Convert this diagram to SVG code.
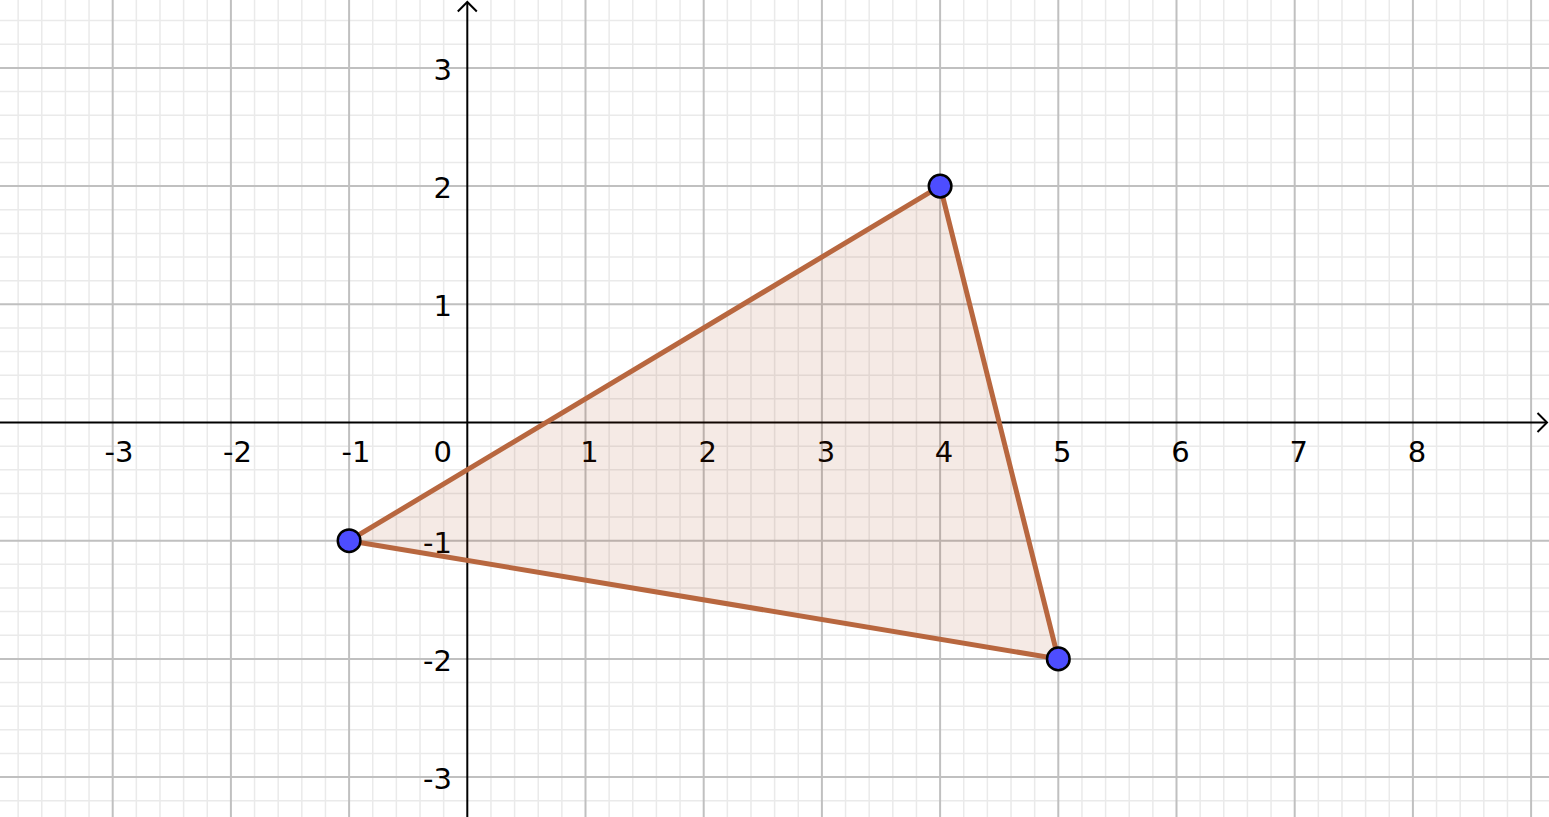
<svg xmlns="http://www.w3.org/2000/svg" width="1549" height="817" viewBox="0 0 1549 817">
<style>
.minor{stroke:#EAEAEA;stroke-width:1.5;fill:none}
.major{stroke:#C0C0C0;stroke-width:2;fill:none}
.axis{stroke:#000;stroke-width:2;fill:none}
.lbl{font-family:"DejaVu Sans",sans-serif;font-size:29px;fill:#000}
.xl{text-anchor:middle}
.yl{text-anchor:end}
.edge{stroke:#B8673F;stroke-width:5;fill:none;stroke-linecap:round}
.pt{fill:#4D4DFF;stroke:#000;stroke-width:2.5}
</style>
<rect width="1549" height="817" fill="#FFFFFF"/>
<g id="grid-minor" class="minor">
<path d="M18.14 0V817M41.78 0V817M65.42 0V817M89.06 0V817M136.34 0V817M159.98 0V817M183.62 0V817M207.26 0V817M254.54 0V817M278.18 0V817M301.82 0V817M325.46 0V817M372.74 0V817M396.38 0V817M420.02 0V817M443.66 0V817M490.94 0V817M514.58 0V817M538.22 0V817M561.86 0V817M609.14 0V817M632.78 0V817M656.42 0V817M680.06 0V817M727.34 0V817M750.98 0V817M774.62 0V817M798.26 0V817M845.54 0V817M869.18 0V817M892.82 0V817M916.46 0V817M963.74 0V817M987.38 0V817M1011.02 0V817M1034.66 0V817M1081.94 0V817M1105.58 0V817M1129.22 0V817M1152.86 0V817M1200.14 0V817M1223.78 0V817M1247.42 0V817M1271.06 0V817M1318.34 0V817M1341.98 0V817M1365.62 0V817M1389.26 0V817M1436.54 0V817M1460.18 0V817M1483.82 0V817M1507.46 0V817"/>
<path d="M0 20.62H1549M0 44.26H1549M0 91.54H1549M0 115.18H1549M0 138.82H1549M0 162.46H1549M0 209.74H1549M0 233.38H1549M0 257.02H1549M0 280.66H1549M0 327.94H1549M0 351.58H1549M0 375.22H1549M0 398.86H1549M0 446.14H1549M0 469.78H1549M0 493.42H1549M0 517.06H1549M0 564.34H1549M0 587.98H1549M0 611.62H1549M0 635.26H1549M0 682.54H1549M0 706.18H1549M0 729.82H1549M0 753.46H1549M0 800.74H1549"/>
</g>
<g id="grid-major" class="major">
<path d="M112.7 0V817M230.9 0V817M349.1 0V817M585.5 0V817M703.7 0V817M821.9 0V817M940.1 0V817M1058.3 0V817M1176.5 0V817M1294.7 0V817M1412.9 0V817M1531.1 0V817"/>
<path d="M0 67.9H1549M0 186.1H1549M0 304.3H1549M0 540.7H1549M0 658.9H1549M0 777.1H1549"/>
</g>
<g id="axes" class="axis">
<path d="M0 422.5H1547"/>
<path d="M1537.5 413L1547 422.5L1537.5 432"/>
<path d="M467.3 817V2"/>
<path d="M457.8 11.5L467.3 2L476.8 11.5"/>
</g>
<g id="x-labels" class="lbl xl">
<text x="119" y="461.5">-3</text>
<text x="237.5" y="461.5">-2</text>
<text x="356" y="461.5">-1</text>
<text x="589.5" y="461.5">1</text>
<text x="707.7" y="461.5">2</text>
<text x="825.9" y="461.5">3</text>
<text x="944.1" y="461.5">4</text>
<text x="1062.3" y="461.5">5</text>
<text x="1180.5" y="461.5">6</text>
<text x="1298.7" y="461.5">7</text>
<text x="1416.9" y="461.5">8</text>
</g>
<g id="y-labels" class="lbl yl">
<text x="452" y="461.5">0</text>
<text x="452" y="79.8">3</text>
<text x="452" y="198">2</text>
<text x="452" y="316.2">1</text>
<text x="452" y="552.6">-1</text>
<text x="452" y="670.8">-2</text>
<text x="452" y="789">-3</text>
</g>
<g id="triangle">
<polygon points="349.1,540.7 940.1,186.1 1058.3,658.9" fill="#993300" fill-opacity="0.1" stroke="none"/>
</g>
<g id="connectors">
<path class="edge" d="M349.1 540.7L940.1 186.1"/>
<path class="edge" d="M940.1 186.1L1058.3 658.9"/>
<path class="edge" d="M1058.3 658.9L349.1 540.7"/>
</g>
<g id="point-A"><circle class="pt" cx="349.1" cy="540.7" r="11.3"/></g>
<g id="point-B"><circle class="pt" cx="940.1" cy="186.1" r="11.3"/></g>
<g id="point-C"><circle class="pt" cx="1058.3" cy="658.9" r="11.3"/></g>
</svg>
